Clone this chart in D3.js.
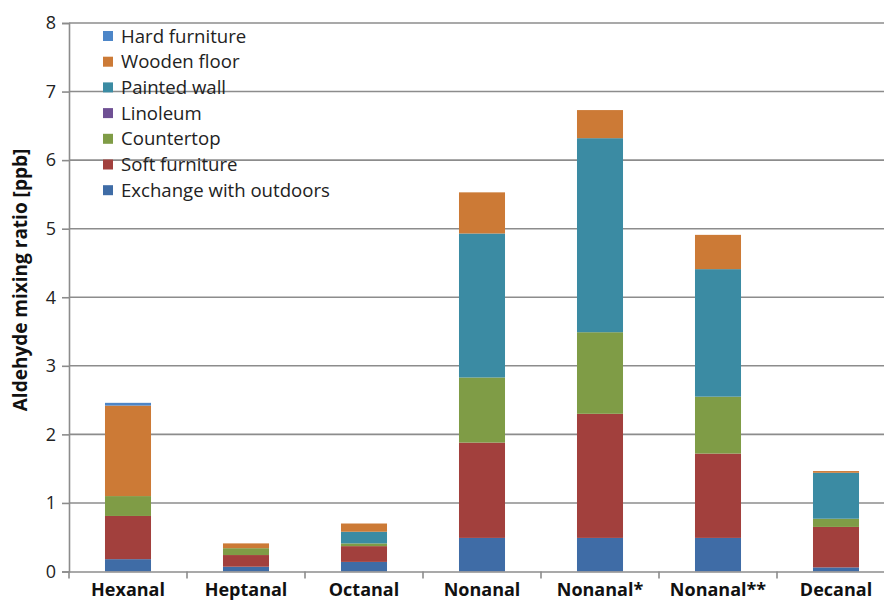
<!DOCTYPE html>
<html>
<head>
<meta charset="utf-8">
<script src="https://cdn.jsdelivr.net/npm/d3@7"></script>
<style>
  body { margin: 0; background: #fff; }
  text { font-family: "Open Sans", "DejaVu Sans", sans-serif; }
</style>
</head>
<body>
<svg id="chart"></svg>
<script>
// data
const categories = ["Hexanal", "Heptanal", "Octanal", "Nonanal", "Nonanal*", "Nonanal**", "Decanal"];
const sources = ["Exchange with outdoors", "Soft furniture", "Countertop", "Linoleum", "Painted wall", "Wooden floor", "Hard furniture"];
const exchange     = [0.18, 0.07, 0.14, 0.49, 0.49, 0.49, 0.06];
const softFurn     = [0.63, 0.17, 0.23, 1.39, 1.81, 1.23, 0.59];
const countertop   = [0.29, 0.10, 0.04, 0.95, 1.19, 0.83, 0.12];
const linoleum     = [0, 0, 0, 0, 0, 0, 0];
const paintedWall  = [0, 0, 0.17, 2.10, 2.83, 1.86, 0.67];
const woodenFloor  = [1.32, 0.07, 0.12, 0.60, 0.41, 0.50, 0.025];
const hardFurn     = [0.04, 0, 0, 0, 0, 0, 0];
const yTicks = [0, 1, 2, 3, 4, 5, 6, 7, 8];

const colors = {
  "Exchange with outdoors": "#3f6ca6",
  "Soft furniture": "#a2403d",
  "Countertop": "#7f9c46",
  "Linoleum": "#6f5094",
  "Painted wall": "#3b8ba3",
  "Wooden floor": "#cc7a36",
  "Hard furniture": "#4d86c8"
};

const width = 884, height = 604;
const margin = {top: 23, right: -11, bottom: 32.5, left: 69};

const table = categories.map((c, i) => ({
  cat: c,
  "Exchange with outdoors": exchange[i],
  "Soft furniture": softFurn[i],
  "Countertop": countertop[i],
  "Linoleum": linoleum[i],
  "Painted wall": paintedWall[i],
  "Wooden floor": woodenFloor[i],
  "Hard furniture": hardFurn[i]
}));

const svg = d3.select("#chart")
  .attr("width", width)
  .attr("height", height);

const x = d3.scaleBand()
  .domain(categories)
  .range([margin.left, width - margin.right])
  .paddingInner(0.61)
  .paddingOuter(0.305);

const y = d3.scaleLinear()
  .domain([0, 8])
  .range([height - margin.bottom, margin.top]);

// gridlines
svg.append("g")
  .selectAll("line")
  .data(yTicks.filter(d => d > 0))
  .join("line")
  .attr("x1", margin.left)
  .attr("x2", width)
  .attr("y1", d => y(d))
  .attr("y2", d => y(d))
  .attr("stroke", "#8c8c8c")
  .attr("stroke-width", 1.6);

// stacked bars
const stack = d3.stack().keys(sources)(table);

svg.append("g")
  .selectAll("g")
  .data(stack)
  .join("g")
  .attr("fill", d => colors[d.key])
  .selectAll("rect")
  .data(d => d)
  .join("rect")
  .attr("x", d => x(d.data.cat))
  .attr("width", x.bandwidth())
  .attr("y", d => y(d[1]))
  .attr("height", d => Math.max(0, y(d[0]) - y(d[1])));

// y axis
const yAxis = svg.append("g")
  .attr("transform", `translate(${margin.left},0)`)
  .call(d3.axisLeft(y).tickValues(yTicks).tickSize(7).tickPadding(6).tickFormat(d3.format("d")));
yAxis.select(".domain").attr("stroke", "#8c8c8c").attr("stroke-width", 1.6);
yAxis.selectAll(".tick line").attr("stroke", "#8c8c8c").attr("stroke-width", 1.6);
yAxis.selectAll(".tick text")
  .attr("font-size", 18)
  .attr("fill", "#222")
  .style("font-family", "Open Sans, sans-serif");

// x axis
const xAxis = svg.append("g")
  .attr("transform", `translate(0,${y(0)})`)
  .call(d3.axisBottom(x).tickSize(0).tickPadding(12));
xAxis.select(".domain").attr("stroke", "#8c8c8c").attr("stroke-width", 1.6);
xAxis.selectAll(".tick text")
  .attr("font-size", 18)
  .attr("font-weight", "bold")
  .attr("fill", "#111")
  .style("font-family", "Open Sans, sans-serif");

// category separator ticks
const step = x.step();
svg.append("g")
  .selectAll("line")
  .data(categories)
  .join("line")
  .attr("x1", d => x(d) + x.bandwidth() / 2 - step / 2)
  .attr("x2", d => x(d) + x.bandwidth() / 2 - step / 2)
  .attr("y1", y(0))
  .attr("y2", y(0) + 7)
  .attr("stroke", "#8c8c8c")
  .attr("stroke-width", 1.6);

// y title
svg.append("text")
  .attr("transform", `translate(27,280) rotate(-90)`)
  .attr("text-anchor", "middle")
  .attr("font-size", 19)
  .attr("font-weight", "bold")
  .attr("fill", "#111")
  .text("Aldehyde mixing ratio [ppb]");

// legend
const legendKeys = sources.slice().reverse();
const legend = svg.append("g")
  .selectAll("g")
  .data(legendKeys)
  .join("g")
  .attr("transform", (d, i) => `translate(103,${36 + i * 25.7})`);
legend.append("rect")
  .attr("x", 0)
  .attr("y", -5)
  .attr("width", 10)
  .attr("height", 10)
  .attr("fill", d => colors[d]);
legend.append("text")
  .attr("x", 18)
  .attr("dy", "0.35em")
  .attr("font-size", 18.6)
  .attr("fill", "#222")
  .text(d => d);
</script>
</body>
</html>
